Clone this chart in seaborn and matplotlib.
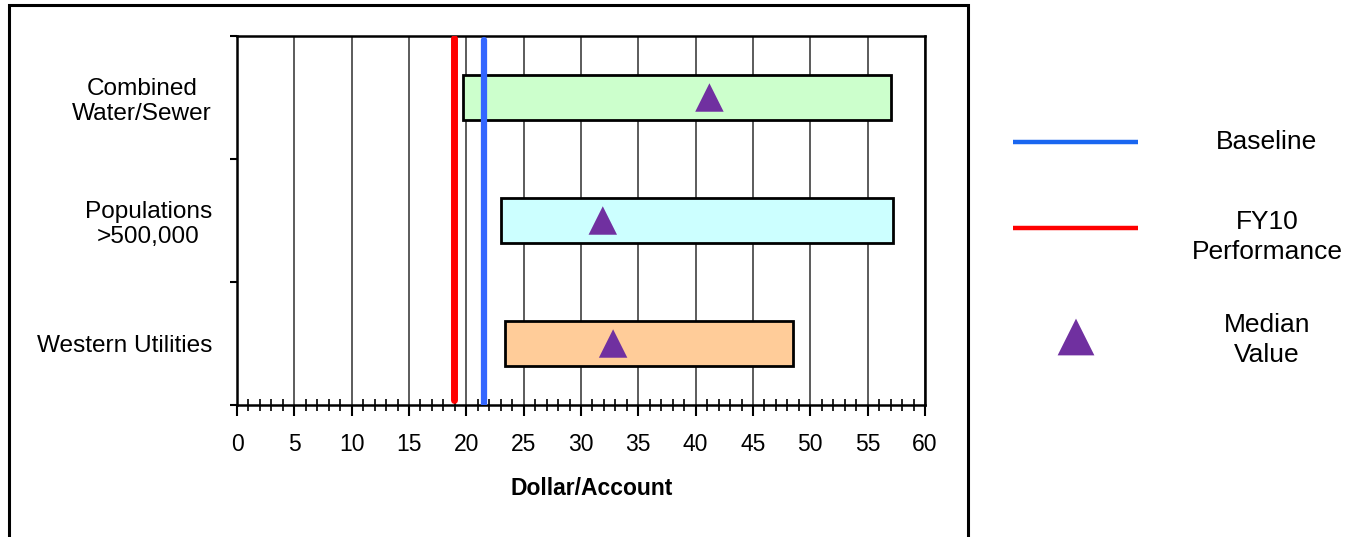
import matplotlib
matplotlib.use("Agg")
import matplotlib.pyplot as plt
from matplotlib.patches import Rectangle
from matplotlib.ticker import MultipleLocator, FixedLocator
import numpy as np
import pandas as pd
import seaborn as sns

# Cost ranges per peer group (Dollar/Account)
categories = ["Combined\nWater/Sewer", "Populations\n>500,000", "Western Utilities"]
range_low = [19.7, 23.0, 23.4]
range_high = [57.0, 57.2, 48.5]
median_value = [41.2, 31.9, 32.8]
range_colors = ["#CCFFCC", "#CCFFFF", "#FFCC99"]

baseline = 21.5
fy10_performance = 18.9

x_ticks = list(range(0, 61, 5))

sns.set_theme(style="white")
plt.rcParams["font.family"] = ["Liberation Sans", "DejaVu Sans"]
plt.rcParams["text.color"] = "black"
plt.rcParams["xtick.color"] = "black"
plt.rcParams["ytick.color"] = "black"
plt.rcParams["axes.labelcolor"] = "black"

W, H = 1348, 537
fig = plt.figure(figsize=(W / 100, H / 100), dpi=100)
ax = fig.add_axes([237 / W, 1 - 405 / H, 688 / W, 369 / H])

df = pd.DataFrame({
    "category": categories,
    "pos": np.arange(len(categories)),
    "low": range_low,
    "high": range_high,
    "median": median_value,
})

# Range bars
ax.barh(df["pos"], df["high"] - df["low"], left=df["low"], height=0.36,
        color=range_colors, edgecolor="black", linewidth=2.0, zorder=3)

# Reference lines
ax.axvline(fy10_performance, ymin=0.014, ymax=0.995, color="#FF0000", lw=5, zorder=4)
ax.axvline(baseline, ymin=0.0, ymax=0.99, color="#3366FF", lw=4.5, zorder=4)

# Median markers
sns.scatterplot(data=df, x="median", y="pos", marker="^", s=420,
                color="#7030A0", edgecolor="none", ax=ax, zorder=5, legend=False)

ax.set_xlim(0, 60)
ax.set_ylim(2.5, -0.5)

ax.xaxis.set_major_locator(FixedLocator(x_ticks))
ax.xaxis.set_minor_locator(MultipleLocator(1))
ax.set_xticklabels([str(v) for v in x_ticks], fontsize=16.5)
ax.tick_params(axis="x", which="major", direction="out", length=8, width=1.5,
               color="black", pad=12, bottom=True)
ax.tick_params(axis="x", which="minor", direction="inout", length=8, width=1.2,
               color="black", bottom=True)

ax.set_yticks(df["pos"])
ax.set_yticklabels(categories, fontsize=17.6, linespacing=1.15, multialignment="center")
ax.yaxis.set_minor_locator(FixedLocator([-0.5, 0.5, 1.5, 2.5]))
ax.tick_params(axis="y", which="major", length=0, pad=18)
ax.tick_params(axis="y", which="minor", direction="out", length=5, width=1.5,
               color="black", left=True)

ax.grid(axis="x", which="major", color="#404040", lw=1.2, zorder=1)
ax.grid(axis="y", visible=False)
ax.set_axisbelow(True)
for s in ax.spines.values():
    s.set_color("black")
    s.set_linewidth(1.8)
ax.set_ylabel("")
ax.set_xlabel("Dollar/Account", fontsize=16.5, fontweight="bold")
ax.xaxis.set_label_coords(0.515, -0.195)

# Outer frame around the chart panel
fig.patches.append(Rectangle((9 / W, -0.02), (968 - 9) / W, 1 - 5 / H + 0.02,
                             transform=fig.transFigure, fill=False,
                             edgecolor="black", lw=2.2, zorder=10))

# Legend panel
lax = fig.add_axes([1000 / W, 1 - 380 / H, 348 / W, 280 / H])
lax.set_xlim(0, 348)
lax.set_ylim(280, 0)
lax.axis("off")
legend_rows = [
    ("line", "#1A66F0", "Baseline", 42, 42),
    ("line", "#FF0000", "FY10\nPerformance", 128, 137),
    ("marker", "#7030A0", "Median\nValue", 237, 240),
]
for kind, col, label, ykey, ytext in legend_rows:
    if kind == "line":
        lax.plot([13, 138], [ykey, ykey], color=col, lw=3.2, solid_capstyle="butt")
    else:
        lax.scatter([76], [ykey], marker="^", s=700, color=col, edgecolor="none")
    lax.text(267, ytext, label, ha="center", va="center", fontsize=19,
             linespacing=1.3, multialignment="center")

fig.savefig("out.png", dpi=100)
